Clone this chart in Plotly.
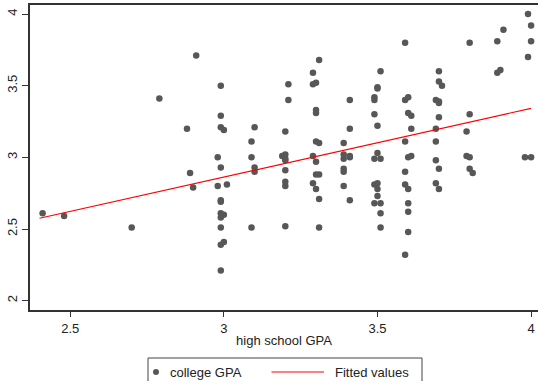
import plotly.graph_objects as go

# High school GPA vs. college GPA, one point per student
hs_gpa = [
    2.41, 2.48, 2.70,
    2.91, 2.79, 2.88, 2.89, 2.90,
    2.99, 2.99, 2.99, 3.00, 3.10, 3.09, 2.98, 3.09, 2.99, 3.10, 3.10, 2.98,
    3.01, 2.99, 2.99, 2.99, 3.00, 2.99, 2.99, 3.09, 2.99, 3.00, 2.99,
    3.31, 3.29, 3.29, 3.30, 3.21, 3.21, 3.30, 3.30, 3.20, 3.30, 3.31, 3.19,
    3.20, 3.20, 3.20, 3.29, 3.30, 3.20, 3.30, 3.31, 3.20, 3.20, 3.29, 3.30,
    3.31, 3.20, 3.31,
    3.41, 3.41, 3.39, 3.39, 3.41, 3.41, 3.39, 3.39, 3.39, 3.39, 3.41,
    3.51, 3.50, 3.50, 3.49, 3.49, 3.49, 3.50, 3.50, 3.49, 3.51, 3.49, 3.50,
    3.50, 3.50, 3.49, 3.51, 3.51, 3.51,
    3.59, 3.59, 3.60, 3.60, 3.61, 3.61, 3.59, 3.60, 3.61, 3.59, 3.59, 3.60,
    3.60, 3.60, 3.60, 3.59,
    3.70, 3.70, 3.71, 3.69, 3.70, 3.70, 3.70, 3.69, 3.69, 3.69, 3.70, 3.69, 3.70,
    3.80, 3.80, 3.79, 3.79, 3.80, 3.80, 3.81,
    3.91, 3.89, 3.89, 3.90,
    3.99, 4.00, 4.00, 3.99, 3.98, 4.00,
]
col_gpa = [
    2.61, 2.59, 2.51,
    3.71, 3.41, 3.20, 2.89, 2.79,
    3.50, 3.29, 3.21, 3.19, 3.21, 3.11, 3.00, 3.00, 2.93, 2.93, 2.90, 2.80,
    2.81, 2.70, 2.69, 2.61, 2.60, 2.58, 2.51, 2.51, 2.39, 2.41, 2.21,
    3.68, 3.59, 3.51, 3.52, 3.51, 3.40, 3.31, 3.33, 3.18, 3.11, 3.10, 3.01,
    3.02, 2.99, 2.98, 3.01, 2.97, 2.91, 2.88, 2.88, 2.83, 2.80, 2.82, 2.78,
    2.71, 2.52, 2.51,
    3.40, 3.20, 3.10, 3.02, 3.00, 3.01, 2.99, 2.92, 2.90, 2.80, 2.70,
    3.60, 3.48, 3.49, 3.40, 3.42, 3.30, 3.22, 3.03, 2.99, 2.99, 2.81, 2.82,
    2.78, 2.73, 2.68, 2.68, 2.61, 2.51,
    3.80, 3.40, 3.42, 3.31, 3.29, 3.20, 3.11, 3.00, 3.01, 2.90, 2.81, 2.78,
    2.68, 2.62, 2.48, 2.32,
    3.60, 3.53, 3.50, 3.40, 3.39, 3.38, 3.28, 3.20, 3.11, 2.98, 2.92, 2.82, 2.78,
    3.80, 3.30, 3.18, 3.01, 3.00, 2.92, 2.89,
    3.89, 3.81, 3.59, 3.61,
    4.00, 3.92, 3.81, 3.70, 3.00, 3.00,
]

# Linear fit, drawn across the observed range of high school GPA
fit_x = [2.4, 4.0]
fit_y = [2.575, 3.342]

x_ticks = [2.5, 3, 3.5, 4]
x_tick_text = ["2.5", "3", "3.5", "4"]
y_ticks = [2, 2.5, 3, 3.5, 4]
y_tick_text = ["2", "2.5", "3", "3.5", "4"]

POINT_COLOR = "#575757"
LINE_COLOR = "#ff0000"
TEXT_COLOR = "#222222"
FONT = "Liberation Sans, Arial, sans-serif"

fig = go.Figure()
fig.add_trace(go.Scatter(
    x=hs_gpa, y=col_gpa, mode="markers", name="college GPA",
    marker=dict(color=POINT_COLOR, size=6.5, line=dict(width=0)),
    showlegend=False,
))
fig.add_trace(go.Scatter(
    x=fit_x, y=fit_y, mode="lines", name="Fitted values",
    line=dict(color=LINE_COLOR, width=1.2),
    showlegend=False,
))

# Plot area geometry in pixels (used to place the boxed key below the axis)
W, H = 538, 381
ML, MR, MT, MB = 30, 0, 5, 71
PW, PH = W - ML - MR, H - MT - MB


def px(x):
    return (x - ML) / PW


def py(y):
    return (H - MB - y) / PH


key_y = py(372)
fig.add_shape(type="rect", xref="paper", yref="paper",
              x0=px(148), x1=px(422), y0=py(395), y1=py(358),
              line=dict(color="#444444", width=1), fillcolor="white")
fig.add_shape(type="circle", xref="paper", yref="paper",
              x0=px(153), x1=px(159), y0=py(375), y1=py(369),
              line=dict(width=0), fillcolor=POINT_COLOR)
fig.add_shape(type="line", xref="paper", yref="paper",
              x0=px(271.5), x1=px(324), y0=key_y, y1=key_y,
              line=dict(color=LINE_COLOR, width=1.2))
fig.add_annotation(x=px(168), y=key_y, xref="paper", yref="paper",
                   text="college GPA", showarrow=False,
                   xanchor="left", yanchor="middle",
                   font=dict(size=13, color=TEXT_COLOR, family=FONT))
fig.add_annotation(x=px(333), y=key_y, xref="paper", yref="paper",
                   text="Fitted values", showarrow=False,
                   xanchor="left", yanchor="middle",
                   font=dict(size=13, color=TEXT_COLOR, family=FONT))

fig.update_layout(
    width=W, height=H,
    margin=dict(l=ML, r=MR, t=MT, b=MB, pad=0),
    paper_bgcolor="white", plot_bgcolor="white",
    font=dict(family=FONT, size=13, color=TEXT_COLOR),
    showlegend=False,
)
fig.update_xaxes(
    range=[2.369, 4.0225], tickvals=x_ticks, ticktext=x_tick_text,
    showgrid=False, zeroline=False,
    showline=True, linecolor="#333333", linewidth=2, mirror=True,
    ticks="outside", ticklen=5, tickwidth=1, tickcolor="#333333",
    title=dict(text="high school GPA", standoff=1,
               font=dict(size=13, color=TEXT_COLOR)),
)
fig.update_yaxes(
    range=[1.935, 4.063], tickvals=y_ticks, ticktext=y_tick_text,
    tickangle=-90,
    showgrid=False, zeroline=False,
    showline=True, linecolor="#333333", linewidth=2,
    ticks="outside", ticklen=6, tickwidth=1, tickcolor="#333333",
)

fig.write_html("out.html")
